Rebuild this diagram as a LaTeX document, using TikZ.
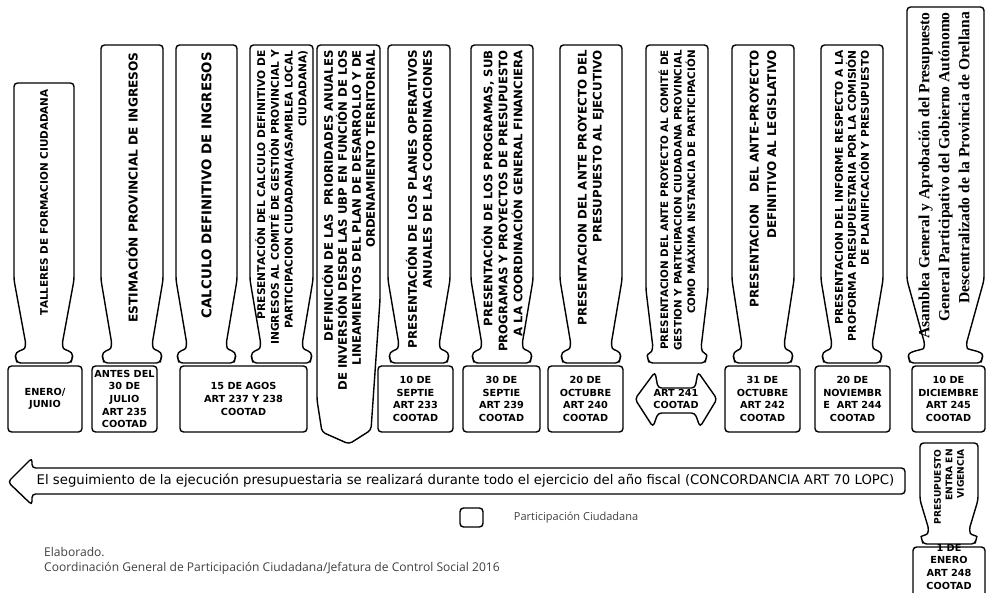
\documentclass[tikz,border=0pt]{standalone}
\usepackage{fontspec}
\setmainfont{DejaVu Sans}
\newfontfamily\romana{Liberation Serif}
\newfontfamily\fina{Open Sans}
\usetikzlibrary{positioning}
\newcommand{\tam}[2]{\fontsize{#1}{#2}\selectfont\bfseries}
\newcommand{\globo}[7]{%
  \draw[contorno] (#1,#4) -- (#1+#7,#5)
    .. controls (#1+#7-2,#5+5) and (#1+1,#5+6) .. (#1+2,#6-4)
    -- (#1+3,#6) -- (#2-3,#6) -- (#2-2,#6-4)
    .. controls (#2-1,#5+6) and (#2-#7+2,#5+5) .. (#2-#7,#5)
    -- (#2,#4) -- (#2,#3) -- (#1,#3) -- cycle;}
\tikzset{contorno/.style={draw,line width=1.2pt,rounded corners=3pt},
  vertical/.style={rotate=90,anchor=east,inner sep=0pt,align=right},
  fecha/.style={inner sep=0pt,align=center,font=\tam{8.3}{10.8}},
  nota/.style={inner sep=0pt,text=black!75}}

\begin{document}
\begin{tikzpicture}[x=0.03cm,y=-0.03cm]
\useasboundingbox (0,0) rectangle (987,592);
\globo{14}{74}{83}{280}{345}{363}{12}
\globo{101}{163}{45}{280}{345}{363}{11}
\globo{176}{237}{45}{280}{345}{363}{11}
\globo{250}{313}{45}{280}{345}{363}{11}
\draw[contorno] (317,45) -- (380,45) -- (380,300) -- (371,430) -- (349,444) -- (322,432) -- (317,400) -- cycle;
\globo{388}{450}{45}{280}{345}{363}{11}
\globo{471}{533}{45}{280}{345}{363}{11}
\globo{560}{622}{45}{280}{345}{363}{11}
\globo{646}{708}{45}{290}{348}{363}{7}
\globo{732}{794}{45}{280}{345}{363}{10}
\globo{821}{883}{45}{280}{345}{363}{11}
\globo{907}{984}{7}{280}{345}{363}{18}
\globo{920}{978}{443}{500}{530}{544}{9}

\node[vertical,font=\tam{8.9}{11}] (talleres) at (44,89) {TALLERES DE FORMACION CIUDADANA};
\node[vertical,font=\tam{10.4}{12.5}] (estimacion) at (132,52) {ESTIMACIÓN PROVINCIAL DE INGRESOS};
\node[vertical,font=\tam{11.4}{13.5}] (calculo) at (206.5,52) {CALCULO DEFINITIVO DE INGRESOS};
\node[vertical,font=\tam{9.1}{11.7}] (comite) at (281.5,50) {PRESENTACIÓN DEL CALCULO DEFINITIVO DE\\INGRESOS AL COMITÉ DE GESTIÓN PROVINCIAL Y\\PARTICIPACION CIUDADANA(ASAMBLEA LOCAL\\CIUDADANA)};
\node[vertical,font=\tam{10}{12}] (prioridades) at (348.5,50) {DEFINICIÓN DE LAS\ \ PRIORIDADES ANUALES\\DE INVERSIÓN DESDE LAS UBP EN FUNCIÓN DE LOS\\LINEAMIENTOS DEL PLAN DE DESARROLLO Y DE\\ORDENAMIENTO TERRITORIAL};
\node[vertical,font=\tam{10.1}{12.8}] (planes) at (419,50) {PRESENTACIÓN DE LOS PLANES OPERATIVOS\\ANUALES DE LAS COORDINACIONES};
\node[vertical,font=\tam{10}{12.8}] (programas) at (502,50) {PRESENTACIÓN DE LOS PROGRAMAS, SUB\\PROGRAMAS Y PROYECTOS DE PRESUPUESTO\\A LA COORDINACIÓN GENERAL FINANCIERA};
\node[vertical,font=\tam{10.1}{12.8}] (ejecutivo) at (591,50) {PRESENTACION DEL ANTE PROYECTO DEL\\PRESUPUESTO AL EJECUTIVO};
\node[vertical,font=\tam{8.8}{11.5}] (maxima) at (677,50) {PRESENTACION DEL ANTE PROYECTO AL COMITÉ DE\\GESTION Y PARTICIPACION CIUDADANA PROVINCIAL\\COMO MÁXIMA INSTANCIA DE PARTICIPACIÓN};
\node[vertical,font=\tam{10.2}{15}] (legislativo) at (763,50) {PRESENTACION\ \ \ DEL ANTE-PROYECTO\\DEFINITIVO AL LEGISLATIVO};
\node[vertical,font=\tam{9.1}{11.1}] (informe) at (852,50) {PRESENTACION DEL INFORME RESPECTO A LA\\PROFORMA PRESUPUESTARIA POR LA COMISIÓN\\DE PLANIFICACIÓN Y PRESUPUESTO};
\node[vertical,font=\romana\tam{13.3}{17}] (asamblea) at (944,12) {Asamblea General y Aprobación del Presupuesto\\General Participativo del Gobierno Autónomo\\Descentralizado de la Provincia de Orellana};
\node[vertical,font=\tam{7.8}{9.8}] (vigencia) at (949,449) {PRESUPUESTO\\ENTRA EN\\VIGENCIA};

\draw[contorno] (8,366) rectangle (82,432);
\node[fecha] (enero) at (45,399) {ENERO/\\JUNIO};
\draw[contorno] (92,366) rectangle (157,432);
\node[fecha] (julio) at (124.5,399) {ANTES DEL\\30 DE\\JULIO\\ART 235\\COOTAD};
\draw[contorno] (180,366) rectangle (307,432);
\node[fecha] (agosto) at (243.5,399) {15 DE AGOS\\ART 237 Y 238\\COOTAD};
\draw[contorno] (378,366) rectangle (453,432);
\node[fecha] (septiembre) at (415.5,399) {10 DE\\SEPTIE\\ART 233\\COOTAD};
\draw[contorno] (463,366) rectangle (540,432);
\node[fecha] (septiembre2) at (501.5,399) {30 DE\\SEPTIE\\ART 239\\COOTAD};
\draw[contorno] (548,366) rectangle (623,432);
\node[fecha] (octubre) at (585.5,399) {20 DE\\OCTUBRE\\ART 240\\COOTAD};
\draw[contorno] (635,399) -- (655,372) -- (658,388) -- (695,388) -- (698,372) -- (717,399) -- (700,427) -- (695,413) -- (658,413) -- (653,427) -- cycle;
\node[fecha] (art241) at (676,399) {ART 241\\COOTAD};
\draw[contorno] (725,366) rectangle (800,432);
\node[fecha] (octubre2) at (762.5,399) {31 DE\\OCTUBRE\\ART 242\\COOTAD};
\draw[contorno] (815,366) rectangle (890,432);
\node[fecha] (noviembre) at (852.5,399) {20 DE\\NOVIEMBR\\E\ \ ART 244\\COOTAD};
\draw[contorno] (912,366) rectangle (985,432);
\node[fecha] (diciembre) at (948.5,399) {10 DE\\DICIEMBRE\\ART 245\\COOTAD};
\draw[contorno] (913,547) rectangle (985,600);
\node[fecha,anchor=north] (enero2) at (949,544) {1 DE\\ENERO\\ART 248\\COOTAD};

\draw[contorno] (8,482) -- (32,458) -- (32,468) -- (905,468) -- (905,494) -- (32,494) -- (32,505) -- cycle;
\node[inner sep=0pt,font=\fontsize{11.3}{13}\selectfont] (seguimiento) at (465.5,481) {El seguimiento de la ejecución presupuestaria se realizará durante todo el ejercicio del año fiscal (CONCORDANCIA ART 70 LOPC)};

\node[contorno,minimum width=0.69cm,minimum height=0.57cm,inner sep=0pt] (leyenda) at (471.5,517.5) {};
\node[nota,right=0.9cm of leyenda,font=\fina\fontsize{9.4}{11}\selectfont] (participacion) {Participación Ciudadana};

\node[nota,anchor=west,font=\fina\fontsize{10.3}{12}\selectfont] (elaborado) at (44,552) {Elaborado.};
\node[nota,anchor=west,font=\fina\fontsize{10.3}{12}\selectfont] (coordinacion) at (44,568) {Coordinación General de Participación Ciudadana/Jefatura de Control Social 2016};
\end{tikzpicture}
\end{document}
